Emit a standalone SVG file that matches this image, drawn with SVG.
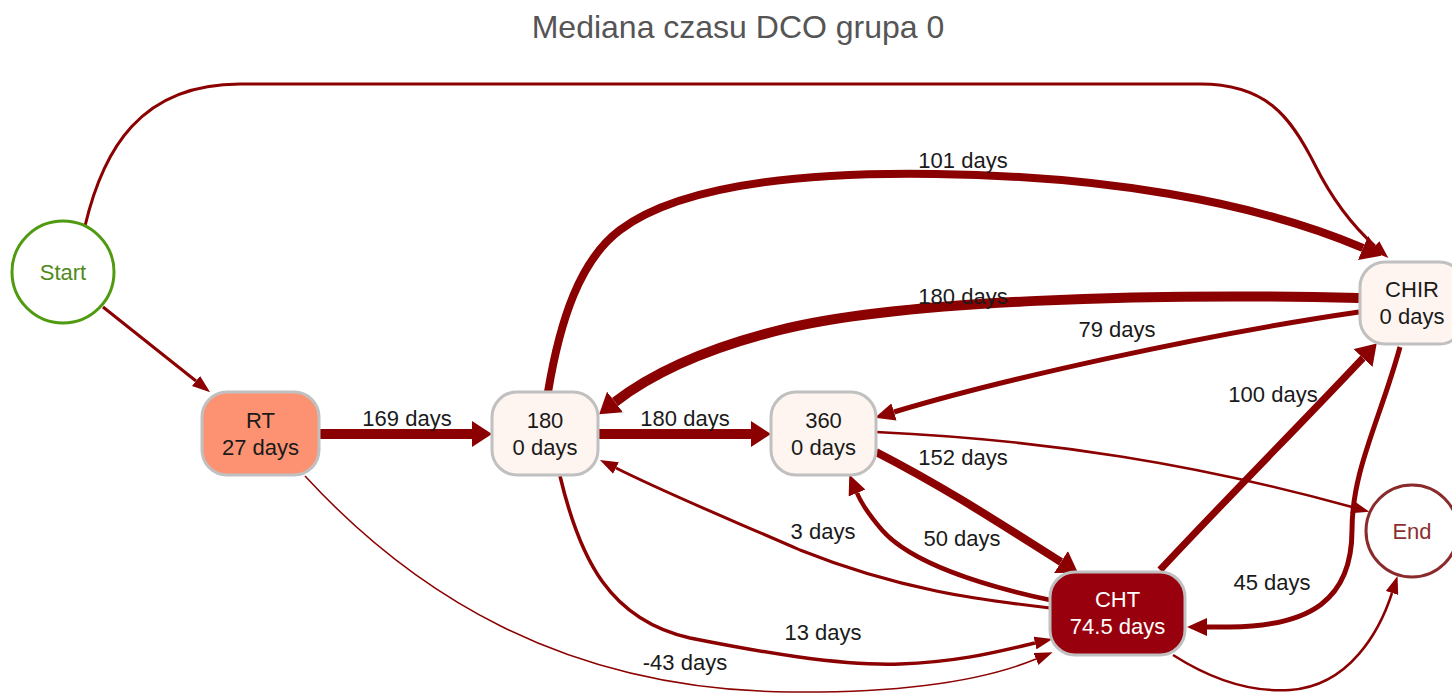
<svg xmlns="http://www.w3.org/2000/svg" width="1452" height="693" viewBox="0 0 1452 693">
<style>
.edge{fill:none;stroke:#8b0000;}
.lbl{font-family:"Liberation Sans",Arial,sans-serif;font-size:22px;fill:#1a1a1a;text-anchor:middle;}
.box{stroke:#c0c0c0;stroke-width:3;}
.ntxt{font-family:"Liberation Sans",Arial,sans-serif;font-size:22px;fill:#1a1a1a;text-anchor:middle;}
</style>
<defs>
<marker id="aS" markerUnits="userSpaceOnUse" markerWidth="18" markerHeight="13" refX="0" refY="6.5" orient="auto" viewBox="0 0 18 13"><path d="M0,0 L18,6.5 L0,13 z" fill="#8b0000"/></marker>
<marker id="aM" markerUnits="userSpaceOnUse" markerWidth="20" markerHeight="18" refX="0" refY="9" orient="auto" viewBox="0 0 20 18"><path d="M0,0 L20,9 L0,18 z" fill="#8b0000"/></marker>
<marker id="aL" markerUnits="userSpaceOnUse" markerWidth="20" markerHeight="26" refX="0" refY="13" orient="auto" viewBox="0 0 20 26"><path d="M0,0 L20,13 L0,26 z" fill="#8b0000"/></marker>
</defs>
<rect width="1452" height="693" fill="#ffffff"/>
<text x="738" y="38" font-family="Liberation Sans,Arial,sans-serif" font-size="32" fill="#555555" text-anchor="middle">Mediana czasu DCO grupa 0</text>

<g id="connectors">
<path class="edge" stroke-width="3" marker-end="url(#aS)" d="M85,226 C103,150 140,84 240,84 L1200,84 C1265,84 1290,115 1315,165 C1335,205 1355,228 1375,246"/>
<path class="edge" stroke-width="3" marker-end="url(#aS)" d="M103,307 L196,381"/>
<path class="edge" stroke-width="10" marker-end="url(#aL)" d="M319,434 L472,434"/>
<path class="edge" stroke-width="10" marker-end="url(#aL)" d="M598,434 L751,434"/>
<path class="edge" stroke-width="1.5" marker-end="url(#aS)" d="M305,476 C410,590 560,690 790,692 C900,693 980,682 1036,659"/>
<path class="edge" stroke-width="3.5" marker-end="url(#aS)" d="M560,476 C580,560 610,620 690,638 C760,652 840,666 900,664 C960,662 1000,651 1035,643"/>
<path class="edge" stroke-width="3" marker-end="url(#aS)" d="M1050,608 C980,600 900,590 800,550 C720,515 670,495 616,468"/>
<path class="edge" stroke-width="4.5" marker-end="url(#aM)" d="M1050,600 C980,585 910,562 882,530 C870,516 862,505 857,493"/>
<path class="edge" stroke-width="8" marker-end="url(#aL)" d="M876,452 C950,490 1010,530 1061,562"/>
<path class="edge" stroke-width="8" marker-end="url(#aL)" d="M548,392 C560,320 580,260 620,230 C680,185 800,172 935,174 C1100,176 1250,200 1363,248"/>
<path class="edge" stroke-width="10" marker-end="url(#aL)" d="M1359,298 C1150,293 900,300 780,330 C700,350 650,375 615,402"/>
<path class="edge" stroke-width="5" marker-end="url(#aM)" d="M1359,312 C1200,335 1000,380 894,412"/>
<path class="edge" stroke-width="2.5" marker-end="url(#aS)" d="M876,432 C1050,440 1200,465 1352,507"/>
<path class="edge" stroke-width="7" marker-end="url(#aL)" d="M1160,570 C1230,495 1300,425 1363,358"/>
<path class="edge" stroke-width="5" marker-end="url(#aM)" d="M1400,347 C1380,420 1352,470 1352,530 C1352,600 1310,626 1230,627 L1207,627"/>
<path class="edge" stroke-width="2.5" marker-end="url(#aS)" d="M1173,655 C1220,685 1260,692 1290,690 C1350,686 1380,630 1392,593"/>
<text class="lbl" x="407" y="426">169 days</text>
<text class="lbl" x="685" y="426">180 days</text>
<text class="lbl" x="963" y="168">101 days</text>
<text class="lbl" x="963" y="304">180 days</text>
<text class="lbl" x="1117" y="337">79 days</text>
<text class="lbl" x="1273" y="402">100 days</text>
<text class="lbl" x="963" y="465">152 days</text>
<text class="lbl" x="823" y="539">3 days</text>
<text class="lbl" x="962" y="546">50 days</text>
<text class="lbl" x="1272" y="590">45 days</text>
<text class="lbl" x="823" y="640">13 days</text>
<text class="lbl" x="685" y="670">-43 days</text>
</g>

<g id="node-start">
<circle cx="63" cy="272" r="51" fill="#ffffff" stroke="#4f9a0f" stroke-width="3"/>
<text x="63" y="280" font-family="Liberation Sans,Arial,sans-serif" font-size="22" fill="#4f8a1a" text-anchor="middle">Start</text>
</g>
<g id="node-rt">
<rect class="box" x="202" y="392" width="117" height="83" rx="25" fill="#fc9272"/>
<text class="ntxt" x="260.5" y="428">RT</text>
<text class="ntxt" x="260.5" y="455">27 days</text>
</g>
<g id="node-180">
<rect class="box" x="492" y="392" width="106" height="83" rx="25" fill="#fff5f0"/>
<text class="ntxt" x="545" y="428">180</text>
<text class="ntxt" x="545" y="455">0 days</text>
</g>
<g id="node-360">
<rect class="box" x="771" y="392" width="105" height="83" rx="25" fill="#fff5f0"/>
<text class="ntxt" x="823.5" y="428">360</text>
<text class="ntxt" x="823.5" y="455">0 days</text>
</g>
<g id="node-chir">
<rect class="box" x="1360" y="262" width="104" height="82" rx="25" fill="#fff5f0"/>
<text class="ntxt" x="1412" y="297">CHIR</text>
<text class="ntxt" x="1412" y="324">0 days</text>
</g>
<g id="node-cht">
<rect class="box" x="1050" y="572" width="135" height="83" rx="25" fill="#99000d"/>
<text class="ntxt" x="1117.5" y="607" style="fill:#ffffff">CHT</text>
<text class="ntxt" x="1117.5" y="634" style="fill:#ffffff">74.5 days</text>
</g>
<g id="node-end">
<circle cx="1412" cy="531" r="46" fill="#ffffff" stroke="#8b2a2a" stroke-width="3"/>
<text x="1412" y="539" font-family="Liberation Sans,Arial,sans-serif" font-size="22" fill="#8b3030" text-anchor="middle">End</text>
</g>
</svg>
